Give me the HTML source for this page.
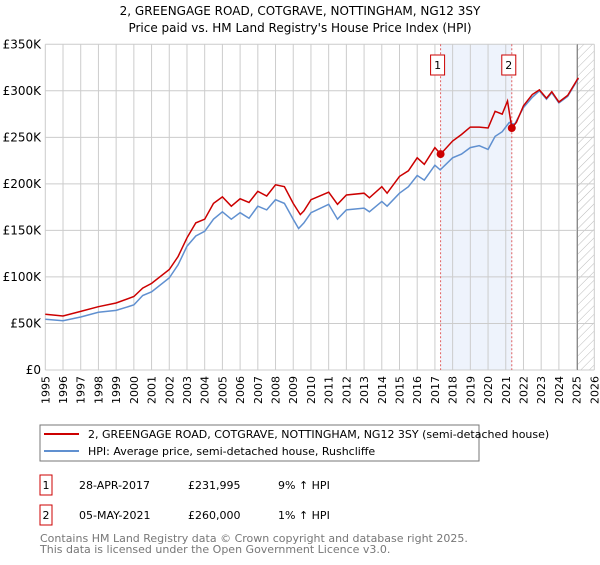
<!DOCTYPE html>
<html><head><meta charset="utf-8"><style>
body{margin:0;background:#fff;font-family:"Liberation Sans","DejaVu Sans",sans-serif}
svg text{font-family:"DejaVu Sans","Liberation Sans",sans-serif}
</style></head><body>
<svg id="c" width="600" height="560" xmlns="http://www.w3.org/2000/svg">
<text x="300" y="15" text-anchor="middle" font-size="12" fill="#000">2, GREENGAGE ROAD, COTGRAVE, NOTTINGHAM, NG12 3SY</text>
<text x="300" y="32" text-anchor="middle" font-size="12" fill="#000">Price paid vs. HM Land Registry's House Price Index (HPI)</text>
<g id="grid"></g><g id="marks"></g>
<g>
<rect x="40" y="425" width="439" height="36" fill="#fff" stroke="#777"/>
<line x1="44" y1="434" x2="79" y2="434" stroke="#cc0000" stroke-width="2"/>
<text x="88" y="438" font-size="11">2, GREENGAGE ROAD, COTGRAVE, NOTTINGHAM, NG12 3SY (semi-detached house)</text>
<line x1="44" y1="451" x2="79" y2="451" stroke="#6090d0" stroke-width="2"/>
<text x="88" y="455" font-size="11">HPI: Average price, semi-detached house, Rushcliffe</text>
</g>
<g font-size="11">
<rect x="40" y="475" width="12" height="20" fill="#fff" stroke="#cc0000"/><text x="46" y="489" text-anchor="middle">1</text>
<text x="79" y="489">28-APR-2017</text><text x="188" y="489">£231,995</text><text x="278" y="489">9% ↑ HPI</text>
<rect x="40" y="505" width="12" height="20" fill="#fff" stroke="#cc0000"/><text x="46" y="519" text-anchor="middle">2</text>
<text x="79" y="519">05-MAY-2021</text><text x="188" y="519">£260,000</text><text x="278" y="519">1% ↑ HPI</text>
</g>
<text x="40" y="542" font-size="11" fill="#777">Contains HM Land Registry data © Crown copyright and database right 2025.</text>
<text x="40" y="553" font-size="11" fill="#777">This data is licensed under the Open Government Licence v3.0.</text>
</svg>
<script>
const hpiYears=[1995,1996,1997,1998,1999,2000,2000.5,2001,2002,2002.5,2003,2003.5,2004,2004.5,2005,2005.5,2006,2006.5,2007,2007.5,2008,2008.5,2009,2009.3,2009.6,2010,2011,2011.5,2012,2013,2013.3,2014,2014.3,2015,2015.5,2016,2016.4,2017,2017.3,2018,2018.5,2019,2019.5,2020,2020.4,2020.8,2021.2,2021.5,2022,2022.5,2022.9,2023.3,2023.6,2024,2024.5,2025,2025.1];
const hpiValues=[54.6,53,57,62,64,70,80,84,99,113,133,144,149,162,170,162,169,163,176,172,183,179,162,152,158,169,178,162,172,174,170,181,176,190,197,209,204,220,215,228,232,239,241,237,251,256,266,264,282,293,300,291,298,287,294,310,313];
const priceYears=[1995,1996,1997,1998,1999,2000,2000.5,2001,2002,2002.5,2003,2003.5,2004,2004.5,2005,2005.5,2006,2006.5,2007,2007.5,2008,2008.5,2009,2009.4,2009.6,2010,2011,2011.5,2012,2013,2013.3,2014,2014.3,2015,2015.5,2016,2016.4,2017,2017.32,2018,2018.5,2019,2019.5,2020,2020.4,2020.8,2021.1,2021.34,2021.6,2022,2022.5,2022.9,2023.3,2023.6,2024,2024.5,2025,2025.1];
const priceValues=[60,58,63,68,72,79,88,93,108,122,142,158,162,179,186,176,184,180,192,187,199,197,179,167,171,183,191,178,188,190,185,197,190,208,214,228,221,239,232,246,253,261,261,260,278,275,289,260,266,284,296,301,292,299,288,295,311,314];
const saleYears=[2017.32,2021.34];
const saleValues=[231.995,260];
const saleLabels=["1","2"];
const yTicks=[0,50,100,150,200,250,300,350];
const yTickLabels=["£0","£50K","£100K","£150K","£200K","£250K","£300K","£350K"];
const xTicks=[];for(let y=1995;y<=2026;y++)xTicks.push(y);
const X=y=>45.3+(y-1995)*17.71, Y=v=>370-v*0.9307;
const NS="http://www.w3.org/2000/svg";
function mk(p,t,a){const e=document.createElementNS(NS,t);for(const k in a)e.setAttribute(k,a[k]);p.appendChild(e);return e;}
const g=document.getElementById('grid'),m=document.getElementById('marks');
const sh=mk(g,'rect',{x:X(saleYears[0]),y:Y(350),width:X(saleYears[1])-X(saleYears[0]),height:Y(0)-Y(350),fill:'#eef3fc'});


const defs=mk(g,'defs',{});const pat=mk(defs,'pattern',{id:'h',width:6,height:6,patternUnits:'userSpaceOnUse',patternTransform:'rotate(45)'});
mk(pat,'line',{x1:0,y1:0,x2:0,y2:6,stroke:'#bbb','stroke-width':1});
const hz=mk(g,'rect',{x:X(2025.05),y:Y(350),width:X(2026)-X(2025.05),height:Y(0)-Y(350),fill:'url(#h)'});


xTicks.forEach(y=>{
 mk(g,'line',{x1:X(y),y1:Y(350),x2:X(y),y2:Y(0),stroke:'#ccc'});
 const t=mk(g,'text',{x:0,y:0,'font-size':11,'text-anchor':'end',transform:`translate(${X(y)+4},376) rotate(-90)`});t.textContent=y;
 
 
});
yTicks.forEach((v,i)=>{
 mk(g,'line',{x1:X(1995),y1:Y(v),x2:X(2026),y2:Y(v),stroke:'#ccc'});
 const t=mk(g,'text',{x:41,y:Y(v)+4,'font-size':12,'text-anchor':'end'});t.textContent=yTickLabels[i];
 
 
});
mk(g,'line',{x1:X(2025.05),y1:Y(350),x2:X(2025.05),y2:Y(0),stroke:'#888'});
saleYears.forEach((y,i)=>{
 mk(g,'line',{x1:X(y),y1:Y(350),x2:X(y),y2:Y(0),stroke:'#e06060','stroke-dasharray':'2,2'});
 const r=mk(m,'rect',{x:X(y)-10,y:55,width:14,height:20,fill:'#fff',stroke:'#cc0000'});
 
 
 const t=mk(m,'text',{x:X(y)-3,y:69,'font-size':11,'text-anchor':'middle'});t.textContent=saleLabels[i];
});
const pth=(xs,vs)=>xs.map((y,i)=>(i?'L':'M')+X(y).toFixed(1)+','+Y(vs[i]).toFixed(1)).join('');
const hl=mk(m,'path',{d:pth(hpiYears,hpiValues),fill:'none',stroke:'#6090d0','stroke-width':1.5});


const pl=mk(m,'path',{d:pth(priceYears,priceValues),fill:'none',stroke:'#cc0000','stroke-width':1.5});


saleYears.forEach((y,i)=>{
 const c=mk(m,'circle',{cx:X(y),cy:Y(saleValues[i]),r:4,fill:'#cc0000'});
 
 
});
</script>
</body></html>
